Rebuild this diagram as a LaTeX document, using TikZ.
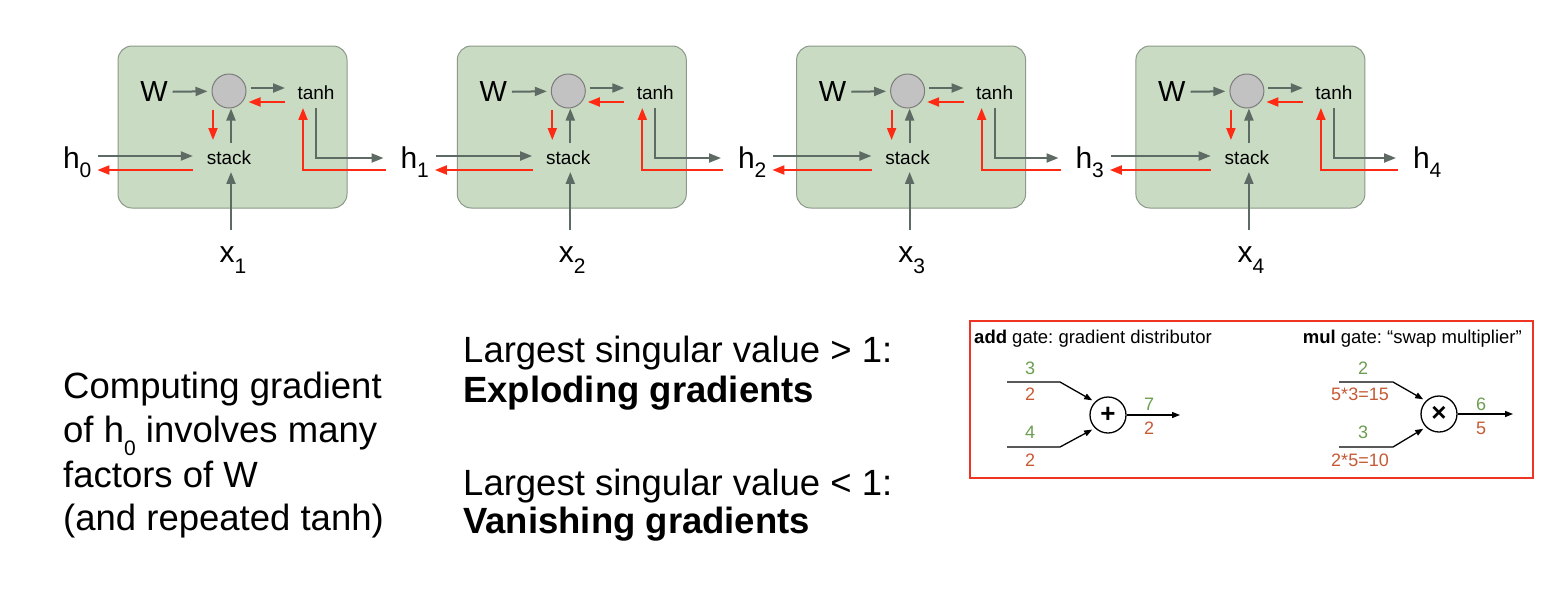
\documentclass[tikz,border=0pt]{standalone}
\usepackage{fontspec}
\setmainfont{Liberation Sans}
\usetikzlibrary{arrows.meta,calc}
\definecolor{garr}{HTML}{5E6A64}
\definecolor{rarr}{HTML}{FF2A14}
\definecolor{cellfill}{HTML}{C9DCC3}
\definecolor{cellline}{HTML}{8C9889}
\definecolor{nodefill}{HTML}{C2C2C2}
\definecolor{nodeline}{HTML}{7C7C7C}
\definecolor{fwd}{HTML}{6C9E52}
\definecolor{bwd}{HTML}{C65A36}
\definecolor{boxred}{HTML}{EE3524}
\newcommand{\fs}[1]{\fontsize{#1}{#1}\selectfont}
\newcommand{\lowsub}[3]{\raisebox{-#2pt}{\fs{#3}#1}}
\frenchspacing
\begin{document}
\begin{tikzpicture}[x=1pt,y=-1pt,
  lab/.style={inner sep=0pt, outer sep=0pt},
  cellbox/.style={draw=cellline, fill=cellfill, line width=1pt, rounded corners=14pt, minimum width=229pt, minimum height=162pt, inner sep=0pt},
  opnode/.style={circle, draw=nodeline, fill=nodefill, line width=1pt, minimum size=34pt, inner sep=0pt},
  garrow/.style={draw=garr, line width=2pt, -{Triangle[length=12pt,width=9pt]}},
  rarrow/.style={draw=rarr, line width=2pt, -{Triangle[length=12pt,width=9pt]}},
  bigtxt/.style={font=\fs{36.5}, anchor=base west, inner sep=0pt},
  gatenode/.style={circle, draw=black, line width=1.3pt, minimum size=36pt, inner sep=0pt, font=\fs{26}\bfseries},
  gatearrow/.style={draw=black, line width=1.3pt, -{Triangle[length=8pt,width=6pt]}},
  num/.style={font=\fs{18}, inner sep=0pt},
  hdr/.style={font=\fs{18.5}, inner sep=0pt}
]
\useasboundingbox (0,0) rectangle (1565,614);
\fill[white] (0,0) rectangle (1565,614);

% hidden-state labels
\foreach \k in {0,...,4}{
  \node[lab, font=\fs{30}, anchor=base west] (h\k) at (63+337.5*\k,168) {h\lowsub{\k}{9}{21}};
}

% cells
\foreach \i [evaluate=\i as \xs using 339.3*\i, evaluate=\i as \j using int(\i+1)] in {0,1,2,3}{
\begin{scope}[xshift=\xs pt]
  \node[cellbox] (box\j) at (232.5,127) {};
  \node[lab, font=\fs{29}] (W\j) at (154,92) {W};
  \node[opnode] (c\j) at (229,91) {};
  \node[lab, font=\fs{19}] (t\j) at (316,93) {tanh};
  \node[lab, font=\fs{19}] (s\j) at (229,158) {stack};
  \node[lab, font=\fs{30}, anchor=base] (x\j) at (233,262) {x\lowsub{\j}{11}{21}};
  % forward (gray)
  \draw[garrow, shorten <=5pt, shorten >=4pt] (W\j) -- (c\j);
  \draw[garrow, shorten <=4pt, shorten >=12.5pt] ([yshift=3pt]c\j.east) -- ([yshift=3pt]c\j.east -| t\j.west);
  \draw[garrow, shorten <=8pt] ([xshift=2pt]s\j.north) -- ([xshift=2pt]c\j.south);
  \draw[garrow, shorten <=7pt, shorten >=14pt] ([yshift=2pt]s\j.west -| h\i.east) -- ([yshift=2pt]s\j.west);
  \draw[garrow, shorten <=16pt, shorten >=7pt] ([xshift=2pt]s\j.south |- x\j.north) -- ([xshift=2pt]s\j.south);
  \draw[garrow, shorten >=17pt] ([yshift=-8pt]t\j.south) |- (s\j.east -| h\j.west);
  % backward (red)
  \draw[rarrow, shorten <=12.5pt, shorten >=2pt] ([yshift=-11pt]c\j.east -| t\j.west) -- ([yshift=-11pt]c\j.east);
  \draw[rarrow, shorten <=1pt, shorten >=11pt] ([xshift=-16pt]c\j.south) -- ([xshift=-16pt]c\j.south |- s\j.north);
  \draw[rarrow, shorten <=13.5pt, shorten >=6pt] ([yshift=-12pt]s\j.west) -- ([yshift=-12pt]s\j.west -| h\i.east);
  \draw[rarrow, shorten <=15pt, shorten >=8pt] ([yshift=-12pt]s\j.east -| h\j.west) -| ([xshift=-13pt]t\j.south);
\end{scope}
}

% left text
\node[bigtxt] (l1) at (63,398) {Computing gradient};
\node[bigtxt] (l2) at (63,442) {of h\lowsub{0}{13}{21} involves many};
\node[bigtxt] (l3) at (63,487) {factors of W};
\node[bigtxt] (l4) at (63,530) {(and repeated tanh)};

% middle text
\node[bigtxt] (m1) at (463,362) {Largest singular value > 1:};
\node[bigtxt, font=\fs{36.5}\bfseries] (m2) at (463,402) {Exploding gradients};
\node[bigtxt] (m3) at (463,495) {Largest singular value < 1:};
\node[bigtxt, font=\fs{36.5}\bfseries] (m4) at (463,533) {Vanishing gradients};

% gate box
\node[draw=boxred, line width=2pt, minimum width=563pt, minimum height=157pt, inner sep=0pt] (gbox) at (1251.5,399.5) {};
\node[hdr, anchor=base west] (addh) at (974,343) {\textbf{add} gate: gradient distributor};
\node[hdr, anchor=base east] (mulh) at (1522,343) {\textbf{mul} gate: “swap multiplier”};

% add gate
\node[gatenode] (ga) at (1108,415) {+};
\coordinate (a1s) at (1007,382); \coordinate (a1k) at (1060,382);
\coordinate (a2s) at (1007,447); \coordinate (a2k) at (1060,447);
\coordinate (aout) at (1180,415);
\draw[gatearrow, shorten >=3pt] (a1s) -- (a1k) -- (ga.north west);
\draw[gatearrow, shorten >=3pt] (a2s) -- (a2k) -- (ga.south west);
\draw[gatearrow] (ga) -- (aout);
\node[num, text=fwd] (a1f) at (1030,368) {3};
\node[num, text=bwd] (a1b) at (1030,394) {2};
\node[num, text=fwd] (a2f) at (1030,432) {4};
\node[num, text=bwd] (a2b) at (1030,460) {2};
\node[num, text=fwd] (aof) at (1149,404) {7};
\node[num, text=bwd] (aob) at (1149,428) {2};

% mul gate
\node[gatenode] (gm) at (1439,414) {×};
\coordinate (m1s) at (1339,382); \coordinate (m1k) at (1393,382);
\coordinate (m2s) at (1339,447); \coordinate (m2k) at (1393,447);
\coordinate (mout) at (1513,414);
\draw[gatearrow, shorten >=3pt] (m1s) -- (m1k) -- (gm.north west);
\draw[gatearrow, shorten >=3pt] (m2s) -- (m2k) -- (gm.south west);
\draw[gatearrow] (gm) -- (mout);
\node[num, text=fwd] (m1f) at (1363,368) {2};
\node[num, text=bwd] (m1b) at (1360,394) {5*3=15};
\node[num, text=fwd] (m2f) at (1363,432) {3};
\node[num, text=bwd] (m2b) at (1360,460) {2*5=10};
\node[num, text=fwd] (mof) at (1481,404) {6};
\node[num, text=bwd] (mob) at (1481,428) {5};
\end{tikzpicture}
\end{document}
